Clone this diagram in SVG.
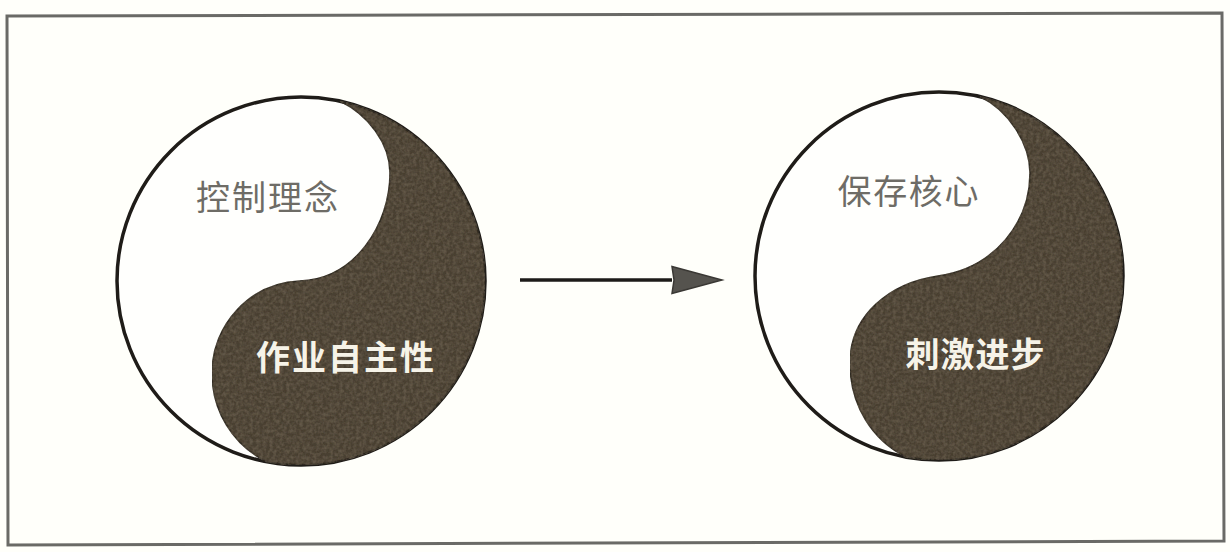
<svg xmlns="http://www.w3.org/2000/svg" width="1230" height="552" viewBox="0 0 1230 552">
<style>
.frame{fill:#fffffa;stroke:#6a6a66;stroke-width:3}
.ring{fill:#fffffd;stroke:#1f1c18;stroke-width:3.5}
.yin{fill:#4a3f30;stroke:#2f2a22;stroke-width:1.5;filter:url(#grain)}
.t{font-family:"Noto Sans CJK SC","Liberation Sans",sans-serif;font-size:34px;text-anchor:middle}
.dark{fill:#6e6c66}
.light{fill:#f6f3e8;font-weight:700}
.line{stroke:#1d1b18;stroke-width:3.5;fill:none;marker-end:url(#head)}
</style>
<defs>
<filter id="grain" x="0" y="0" width="100%" height="100%">
<feTurbulence type="fractalNoise" baseFrequency="0.3" numOctaves="2" seed="4" result="n"/>
<feColorMatrix in="n" type="matrix" values="0 0 0 0 0.2  0 0 0 0 0.16  0 0 0 0 0.11  0 0 0 0.9 -0.3" result="c"/>
<feComposite in="c" in2="SourceAlpha" operator="in" result="g"/>
<feMerge><feMergeNode in="SourceGraphic"/><feMergeNode in="g"/></feMerge>
</filter>
<marker id="head" markerUnits="userSpaceOnUse" markerWidth="54" markerHeight="32" refX="1" refY="15" orient="auto">
<path d="M1 1.5L51 15L1 28.5L3 15Z" fill="#55534e" stroke="#3a3834" stroke-width="1.5"/>
</marker>
</defs>
<rect width="1230" height="552" fill="#fffffa"/>
<path class="frame" d="M7 16L1222 13L1224 541L8 545Z"/>
<g id="node-left">
<circle class="ring" cx="301" cy="281" r="184"/>
<path class="yin" d="M340 101.2C368 115 390 143 390 173C390 225 355 279 300 281C250 283 212 325 212 373C212 410 232 445 267 461.8A184 184 0 0 0 485 281A184 184 0 0 0 340 101.2Z"/>
<text class="t dark" x="267" y="210" textLength="142" lengthAdjust="spacing">控制理念</text>
<text class="t light" x="345" y="370" textLength="178" lengthAdjust="spacing">作业自主性</text>
</g>
<g id="node-right">
<circle class="ring" cx="939" cy="276" r="184"/>
<path class="yin" d="M980 96.6C1008 110 1030 143 1030 173C1030 222 995 268 938 276C890 283 850 315 850 363C850 405 872 440 906 457A184 184 0 0 0 1123 276A184 184 0 0 0 980 96.6Z"/>
<text class="t dark" x="908" y="204" textLength="141" lengthAdjust="spacing">保存核心</text>
<text class="t light" x="975" y="367" textLength="139" lengthAdjust="spacing">刺激进步</text>
</g>
<g id="connectors">
<line class="line" x1="520" y1="280" x2="672" y2="280"/>
</g>
</svg>
